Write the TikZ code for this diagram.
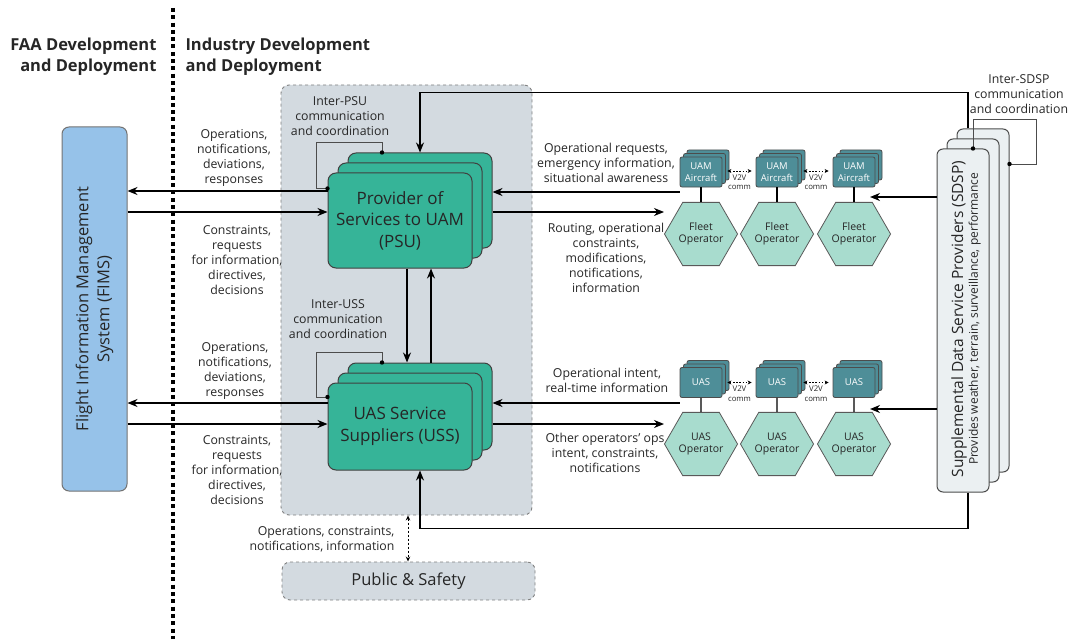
\documentclass[tikz,border=0pt]{standalone}
\usepackage{fontspec}
\setmainfont{Open Sans}
\usetikzlibrary{arrows.meta,shapes.geometric}
\definecolor{psugreen}{HTML}{36B498}
\definecolor{acteal}{HTML}{4E8E98}
\definecolor{hexteal}{HTML}{A8DCCE}
\definecolor{fimsblue}{HTML}{96C2E9}
\definecolor{indgray}{HTML}{D3DAE0}
\definecolor{sdspgray}{HTML}{EBF0F2}
\definecolor{txtgray}{HTML}{262626}
\begin{document}
\begin{tikzpicture}[x=1pt,y=-1pt,
  arr/.style={line width=1.3pt, -{Stealth[length=10pt,width=8pt]}},
  lbl/.style={align=center, text=txtgray, font=\fontsize{12.3}{15}\selectfont},
  hdr/.style={font=\bfseries\fontsize{16.5}{21}\selectfont, text=txtgray},
  bigbox/.style={draw=black!75, line width=1pt, fill=psugreen, rounded corners=8pt, minimum width=144pt},
  acbox/.style={draw=black!70, line width=0.8pt, fill=acteal, rounded corners=2pt, minimum width=42pt, minimum height=30pt, inner sep=0pt, align=center, text=white, font=\fontsize{9.5}{12}\selectfont},
  opbox/.style={draw=black!65, line width=0.8pt, fill=hexteal, regular polygon, regular polygon sides=6, minimum size=58pt, inner sep=0pt, align=center, text=txtgray, font=\fontsize{10.5}{12}\selectfont},
  sdspbox/.style={draw=black!70, line width=1pt, fill=sdspgray, rounded corners=6pt, minimum width=52pt, minimum height=343pt},
  v2v/.style={line width=0.9pt, dash pattern=on 1.6pt off 1.6pt, {Stealth[length=4pt,width=4pt]}-{Stealth[length=4pt,width=4pt]}},
  v2vlbl/.style={align=center, text=txtgray, font=\fontsize{7.8}{9.5}\selectfont, inner sep=1pt},
  loopline/.style={line width=0.9pt, draw=black!70}]
\useasboundingbox (0,0) rectangle (1075,639);
%FAA and industry split
\node[hdr, align=right, anchor=east] (faahdr) at (160,57) {FAA Development\\and Deployment};
\node[hdr, align=left, anchor=west] (indhdr) at (182,57) {Industry Development\\and Deployment};
\node[draw=black!50, dashed, line width=0.9pt, fill=indgray, rounded corners=8pt, minimum width=251pt, minimum height=430pt] (industry) at (406.5,300) {};
\node[draw=black!50, dashed, line width=0.9pt, fill=indgray, rounded corners=8pt, minimum width=253pt, minimum height=38pt, font=\fontsize{16.5}{20}\selectfont, text=txtgray] (pub) at (408.5,581) {Public \& Safety};
\draw[line width=4pt, dash pattern=on 4pt off 3.3pt] (173,8) -- (173,639);
%FIMS
\node[draw=black!55, line width=1pt, fill=fimsblue, rounded corners=7pt, minimum width=65pt, minimum height=364pt] (fims) at (94.5,309) {};
\node[rotate=90, align=center, text=txtgray, font=\fontsize{16.5}{21}\selectfont] (fimstxt) at (fims.center) {Flight Information Management\\System (FIMS)};
%PSU and USS stacks
\foreach \k in {2,1}{
  \node[bigbox, minimum height=95pt] (psu\k) at (400+10*\k,220.5-10*\k) {};
  \node[bigbox, minimum height=87pt] (uss\k) at (400+10*\k,426.5-10*\k) {};
}
\node[bigbox, minimum height=95pt, align=center, text=txtgray, font=\fontsize{17}{21.5}\selectfont] (psu) at (400,220.5) {Provider of\\Services to UAM\\(PSU)};
\node[bigbox, minimum height=87pt, align=center, text=txtgray, font=\fontsize{17}{21.5}\selectfont] (uss) at (400,426.5) {UAS Service\\Suppliers (USS)};
%inter-PSU and inter-USS loops
\coordinate (psuA) at ([xshift=-38pt]psu2.north);
\coordinate (psuB) at ([yshift=32pt]psu.west);
\draw[loopline] (psuA) -- ++(0,-10) -| ([xshift=-11pt]psuB) -- (psuB);
\fill (psuA) circle (2.2pt) (psuB) circle (2.2pt);
\node[lbl] (psulbl) at (340,116) {Inter-PSU\\communication\\and coordination};
\coordinate (ussA) at ([xshift=-38pt]uss2.north);
\coordinate (ussB) at ([yshift=29.5pt]uss.west);
\draw[loopline] (ussA) -- ++(0,-10) -| ([xshift=-11pt]ussB) -- (ussB);
\fill (ussA) circle (2.2pt) (ussB) circle (2.2pt);
\node[lbl] (usslbl) at (338,319) {Inter-USS\\communication\\and coordination};
%PSU <-> USS
\draw[arr] ([xshift=7pt]psu.south) -- ([xshift=7pt]psu.south |- uss2.north);
\draw[arr] ([xshift=11pt]uss2.north) -- ([xshift=11pt]uss2.north |- psu.south);
%FIMS exchanges
\draw[arr] (psu.west |- 0,191) -- (fims.east |- 0,191);
\draw[arr] (fims.east |- 0,212) -- (psu.west |- 0,212);
\draw[arr] (uss.west |- 0,403) -- (fims.east |- 0,403);
\draw[arr] (fims.east |- 0,424) -- (uss.west |- 0,424);
\node[lbl] (fimsl1) at (234,157.5) {Operations,\\notifications,\\deviations,\\responses};
\node[lbl] (fimsl2) at (237,260) {Constraints,\\requests\\for information,\\directives,\\decisions};
\node[lbl] (fimsl3) at (235,370.5) {Operations,\\notifications,\\deviations,\\responses};
\node[lbl] (fimsl4) at (237,470) {Constraints,\\requests\\for information,\\directives,\\decisions};
%aircraft, UAS and their operators
\foreach \i/\x in {1/701,2/777,3/854}{
  \foreach \k in {2,1}{
    \node[acbox] (uam\i-\k) at (\x+3.5*\k,172-3.5*\k) {};
    \node[acbox] (uas\i-\k) at (\x+3.5*\k,382.5-3.5*\k) {};
  }
  \node[acbox] (uam\i) at (\x,172) {UAM\\Aircraft};
  \node[opbox] (fo\i) at (\x,234) {Fleet\\Operator};
  \draw[line width=1.2pt] (uam\i) -- (fo\i);
  \node[acbox] (uas\i) at (\x,382.5) {UAS};
  \node[opbox] (uo\i) at (\x,444) {UAS\\Operator};
  \draw[line width=1.2pt] (uas\i) -- (uo\i);
}
\foreach \i/\j in {1/2,2/3}{
  \draw[v2v] ([xshift=5pt,yshift=1pt]uam\i.east) -- ([xshift=-4pt,yshift=1pt]uam\j.west) node[v2vlbl, midway, below=2pt] (v2vu\i) {V2V\\comm};
  \draw[v2v] ([xshift=5pt]uas\i.east) -- ([xshift=-4pt]uas\j.west) node[v2vlbl, midway, below=2pt] (v2vs\i) {V2V\\comm};
}
\draw[arr] (uam1.west |- 0,192) -- (psu2.east |- 0,192);
\draw[arr] (psu2.east |- 0,212) -- (fo1.west |- 0,212);
\draw[arr] (uas1.west |- 0,403) -- (uss2.east |- 0,403);
\draw[arr] (uss2.east |- 0,424) -- (uo1.west |- 0,424);
\node[lbl] (reql) at (606,163) {Operational requests,\\emergency information,\\situational awareness};
\node[lbl] (routl) at (606,257.5) {Routing, operational\\constraints,\\modifications,\\notifications,\\information};
\node[lbl] (intl) at (607,380.5) {Operational intent,\\real-time information};
\node[lbl] (othl) at (605,453) {Other operators’ ops\\intent, constraints,\\notifications};
%SDSP
\foreach \k in {2,1}{\node[sdspbox] (sdsp\k) at (963+10*\k,320.5-10*\k) {};}
\node[sdspbox] (sdsp) at (963,320.5) {};
\node[rotate=90, align=center, text=txtgray] (sdsptxt) at (966,319) {{\fontsize{15.5}{17}\selectfont Supplemental Data Service Providers (SDSP)}\\[1pt]{\fontsize{12}{14}\selectfont Provides weather, terrain, surveillance, performance}};
\coordinate (sdspA) at ([xshift=10pt]sdsp.north);
\coordinate (sdspB) at (sdsp2.east |- 0,164);
\draw[loopline] (sdspA) |- (1036,119) |- (sdspB);
\fill (sdspA) circle (2.2pt) (sdspB) circle (2.2pt);
\node[lbl] (sdsplbl) at (1019,94) {Inter-SDSP\\communication\\and coordination};
\coordinate (uamin) at (870,197);
\coordinate (uasin) at (870,409);
\draw[arr] (sdsp.west |- uamin) -- (uamin);
\draw[arr] (sdsp.west |- uasin) -- (uasin);
\draw[arr] ([xshift=-15pt]sdsp2.north) |- ([yshift=60pt]psu2.north) -- (psu2.north);
\draw[arr] ([xshift=5pt]sdsp.south) |- ([xshift=20pt,yshift=-58pt]uss.south) -- ([xshift=20pt]uss.south);
%public and safety
\draw[line width=0.9pt, dash pattern=on 2pt off 2pt, {Stealth[length=5pt,width=4.5pt]}-{Stealth[length=5pt,width=4.5pt]}] (industry.south -| 408,0) -- (pub.north -| 408,0);
\node[lbl, align=right] (publbl) at (322,539) {Operations, constraints,\\notifications, information};
\end{tikzpicture}
\end{document}
